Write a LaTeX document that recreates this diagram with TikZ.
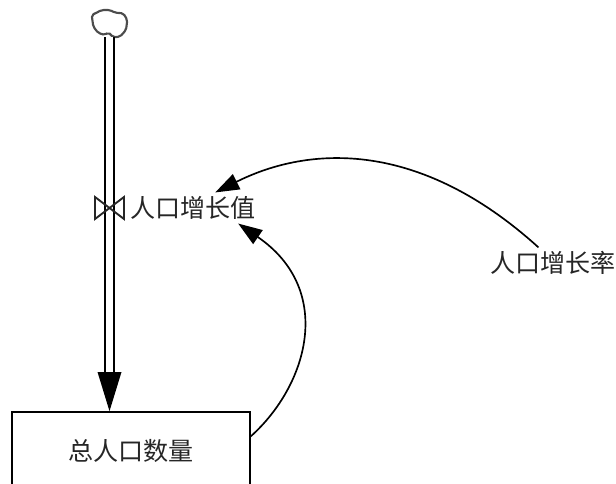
\documentclass[tikz,border=0pt]{standalone}
\usepackage{fontspec}
\newfontfamily\cjk{Noto Sans CJK SC}
\usetikzlibrary{arrows.meta}
\tikzset{
  line/.style={line width=1.25pt,black},
  label/.style={inner sep=0pt,outer sep=3pt,font=\cjk\fontsize{18.8}{20}\selectfont,text=black!85},
  stock/.style={draw,line width=1.25pt,minimum width=178.5pt,minimum height=58.5pt,inner sep=0pt,font=\cjk\fontsize{18.8}{20}\selectfont,text=black!85},
  link/.style={line,-{Triangle[length=18pt,width=12.5pt]}},
}
\begin{document}
\begin{tikzpicture}[x=0.75pt,y=-0.75pt]
\clip (0,0) rectangle (616,484);
\useasboundingbox (0,0) rectangle (616,484);
\node[stock] (total) at (131,451) {总人口数量};
\node[label] (value) at (193,208) {人口增长值};
\node[label] (rate) at (553,263) {人口增长率};
\coordinate (source) at (109.5,37);
\coordinate (valve) at (109.5,208);
% cloud
\draw[line width=1.6pt,black!70,rounded corners=1.5pt] (91.7,15) -- (96,13) -- (101.7,10) -- (110,10)
 -- (115,12.7) -- (123.3,13.3) -- (127.3,20) -- (126,30) -- (120,36.7) -- (113.3,37.3)
 -- (108.3,32.3) -- (105,35) -- (98.3,33) -- (93.3,26.7) -- cycle;
% pipe
\draw[line width=1.5pt,double=white,double distance=5.6pt] (source) -- (109.5,380);
\fill (total.north -| source) -- (97.5,372) -- (121.5,372) -- cycle;
% valve
\draw[line width=1.4pt,black!85] (valve) -- (95,197) -- (95,219) -- (124,197) -- (124,219) -- cycle;
% links
\draw[link] (rate.133) .. controls (420,140) and (310,145) .. (value.35);
\draw[link] (total.7) .. controls (308,385) and (335,290) .. (value.-19);
\end{tikzpicture}
\end{document}
